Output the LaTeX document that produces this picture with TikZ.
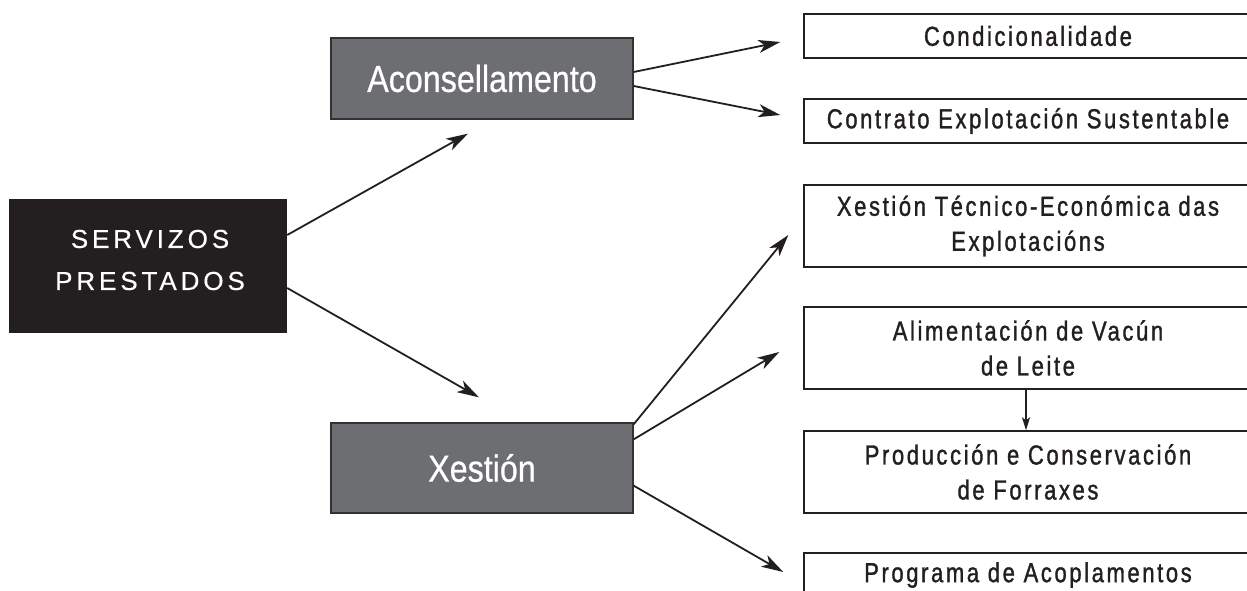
\documentclass[tikz,border=0pt]{standalone}
\usepackage{fontspec}
\setmainfont{Liberation Sans}
\newfontfamily\rfont[FakeStretch=0.8,FakeBold=1.2,LetterSpace=9.5]{Liberation Sans}
\newfontfamily\gfont[FakeStretch=0.86,FakeBold=0.6]{Liberation Sans}
\newfontfamily\bfontx[LetterSpace=15,FakeBold=0.4]{Liberation Sans}
\usetikzlibrary{arrows.meta}
\definecolor{ink}{RGB}{35,31,32}
\definecolor{greyfill}{RGB}{109,110,113}
\definecolor{greyedge}{RGB}{50,50,52}
\begin{document}
\begin{tikzpicture}[x=1pt,y=-1pt,
  rbox/.style={draw=ink, line width=1.4pt, fill=white, minimum width=448pt, inner sep=0pt, align=center, text=ink, font=\rfont\fontsize{27.5}{35}\selectfont},
  gbox/.style={draw=greyedge, line width=1.3pt, fill=greyfill, minimum width=302pt, inner sep=0pt, text=white, font=\gfont\fontsize{37.5}{44}\selectfont},
  bbox/.style={fill=ink, minimum width=278pt, minimum height=134pt, inner sep=0pt},
  btext/.style={text=white, align=center, inner sep=0pt, font=\bfontx\fontsize{26}{42}\selectfont},
  arr/.style={-{Stealth[length=22pt,width=13pt,inset=6pt]}, line width=1.8pt, draw=ink},
  sarr/.style={-{Stealth[length=13pt,width=8pt,inset=3pt]}, line width=1.5pt, draw=ink}]
\useasboundingbox (0,0) rectangle (1247,591);
\clip (0,0) rectangle (1247,591);

\node[bbox] (serv) at (148,266) {};
\node[btext] (servt) at (150,260) {SERVIZOS\\PRESTADOS};

\node[gbox, minimum height=81pt] (acon) at (482,78.5) {Aconsellamento};
\node[gbox, minimum height=90pt] (xest) at (482,468) {Xestión};

\node[rbox, minimum height=44pt] (cond) at (1028,36) {Condicionalidade};
\node[rbox, minimum height=44pt] (cont) at (1028,121) {Contrato Explotación Sustentable};
\node[rbox, minimum height=82pt] (xtec) at (1028,226) {Xestión Técnico-Económica das\\Explotacións};
\node[rbox, minimum height=82pt] (alim) at (1028,348) {Alimentación de Vacún\\de Leite};
\node[rbox, minimum height=82pt] (prod) at (1028,472) {Producción e Conservación\\de Forraxes};
\node[rbox, minimum height=44pt] (prog) at (1028,575) {Programa de Acoplamentos};

\draw[arr] ([yshift=31pt]serv.east) -- ([xshift=-14pt,yshift=-14pt]acon.south);
\draw[arr] ([yshift=-22pt]serv.east) -- ([xshift=-3pt,yshift=25pt]xest.north);
\draw[arr] ([yshift=6.5pt]acon.east) -- ([xshift=-23pt,yshift=-6pt]cond.west);
\draw[arr] ([yshift=-7.5pt]acon.east) -- ([xshift=-23pt,yshift=6pt]cont.west);
\draw[arr] ([yshift=-2pt]xest.north east) -- ([xshift=-15pt,yshift=-9pt]xtec.west);
\draw[arr] ([yshift=-17pt]xest.north east) -- ([xshift=-24pt,yshift=-4pt]alim.west);
\draw[arr] ([yshift=28pt]xest.south east) -- ([xshift=-20pt,yshift=3pt]prog.west);
\draw[sarr] ([xshift=-2pt]alim.south) -- ([xshift=-2pt]prod.north);
\end{tikzpicture}
\end{document}
